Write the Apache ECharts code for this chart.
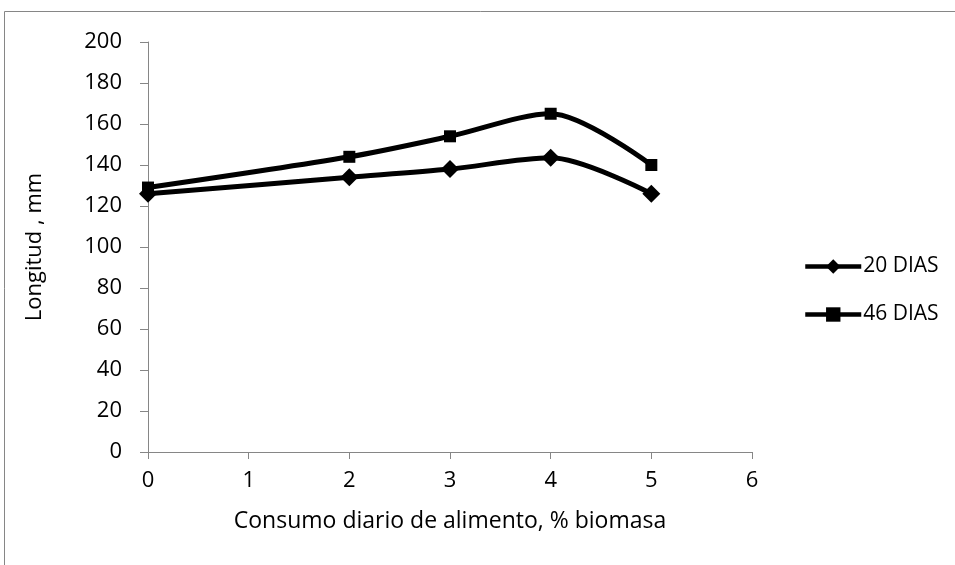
<!DOCTYPE html>
<html>
<head>
<meta charset="utf-8">
<script src="https://cdn.jsdelivr.net/npm/echarts@6/dist/echarts.min.js"></script>
<style>html,body{margin:0;padding:0;background:#fff;}#c{width:955px;height:565px;}</style>
</head>
<body>
<div id="c"></div>
<script>
var xValues = [0, 2, 3, 4, 5];
var dias20 = [126, 134, 138, 143.5, 126];
var dias46 = [129, 144, 154, 165, 140];
var seriesNames = ['20 DIAS', '46 DIAS'];
var xTitle = 'Consumo diario de alimento, % biomasa';
var yTitle = 'Longitud , mm';

function pairs(xs, ys) { return xs.map(function (x, i) { return [x, ys[i]]; }); }

var font = 'Open Sans';
var fs = 22;
var axisGray = '#868686';
var chart = echarts.init(document.getElementById('c'), null, {renderer: 'canvas'});
chart.setOption({
  animation: false,
  backgroundColor: '#fff',
  graphic: [{
    type: 'rect', silent: true,
    shape: {x: 4.5, y: 11.5, width: 1200, height: 1200},
    style: {fill: 'none', stroke: axisGray, lineWidth: 1}
  }],
  grid: {left: 148, right: 203, top: 42, bottom: 113},
  legend: {
    orient: 'vertical', left: 798, top: 251, itemWidth: 56, itemHeight: 18, itemGap: 27,
    lineStyle: {width: 4.5},
    textStyle: {fontFamily: font, fontSize: 21, color: '#000', padding: [0, 0, 0, -3]},
    data: seriesNames
  },
  xAxis: {
    type: 'value', min: 0, max: 6, interval: 1,
    name: xTitle, nameLocation: 'middle', nameGap: 58,
    nameTextStyle: {fontFamily: font, fontSize: 23, color: '#000'},
    axisLine: {lineStyle: {color: axisGray}},
    axisTick: {show: true, length: 7, lineStyle: {color: axisGray}},
    axisLabel: {fontFamily: font, fontSize: fs, color: '#000', margin: 18},
    splitLine: {show: false}
  },
  yAxis: {
    type: 'value', min: 0, max: 200, interval: 20,
    name: yTitle, nameLocation: 'middle', nameGap: 102,
    nameTextStyle: {fontFamily: font, fontSize: 22, color: '#000'},
    axisLine: {show: true, lineStyle: {color: axisGray}},
    axisTick: {show: true, length: 8, lineStyle: {color: axisGray}},
    axisLabel: {fontFamily: font, fontSize: fs, color: '#000', margin: 26},
    splitLine: {show: false}
  },
  series: [{
    name: seriesNames[0], type: 'line', smooth: 0.3,
    data: pairs(xValues, dias20),
    symbol: 'diamond', symbolSize: 18,
    lineStyle: {color: '#000', width: 5},
    itemStyle: {color: '#000'}
  }, {
    name: seriesNames[1], type: 'line', smooth: 0.3,
    data: pairs(xValues, dias46),
    symbol: 'rect', symbolSize: 12,
    lineStyle: {color: '#000', width: 5},
    itemStyle: {color: '#000'}
  }]
});
</script>
</body>
</html>
